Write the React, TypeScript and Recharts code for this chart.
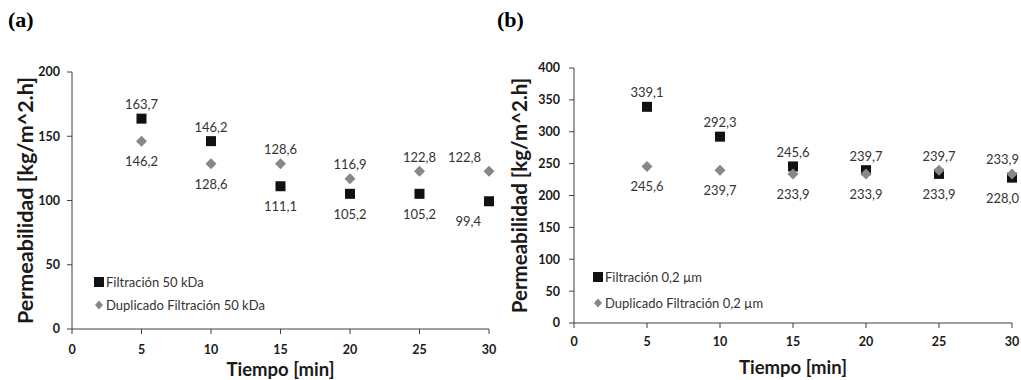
import React from "react"
import {
  ScatterChart,
  Scatter,
  XAxis,
  YAxis,
  LabelList,
  Legend,
} from "recharts"

const TIEMPO = [5, 10, 15, 20, 25, 30]

// panel (a) - 50 kDa
const FILTRACION_50 = [163.7, 146.2, 111.1, 105.2, 105.2, 99.4]
const DUPLICADO_50 = [146.2, 128.6, 128.6, 116.9, 122.8, 122.8]

// panel (b) - 0,2 µm
const FILTRACION_02 = [339.1, 292.3, 245.6, 239.7, 233.9, 228.0]
const DUPLICADO_02 = [245.6, 239.7, 233.9, 233.9, 239.7, 233.9]

const X_TICKS = [0, 5, 10, 15, 20, 25, 30]
const Y_TICKS_A = [0, 50, 100, 150, 200]
const Y_TICKS_B = [0, 50, 100, 150, 200, 250, 300, 350, 400]

const FONT = "Lato, 'Open Sans', sans-serif"
const BLACK = "#111111"
const GRAY = "#878787"
const AXIS = "#404040"

const toRows = (ys: number[]) => TIEMPO.map((x, i) => ({ x, y: ys[i] }))

const fmt = (v: number) => v.toFixed(1).replace(".", ",")

const SquareShape = (props: any) => {
  const { cx, cy } = props
  return <rect x={cx - 5} y={cy - 5} width={10} height={10} fill={BLACK} />
}

const DiamondShape = (props: any) => {
  const { cx, cy } = props
  const r = 5.5
  return (
    <path
      d={`M${cx},${cy - r}L${cx + r},${cy}L${cx},${cy + r}L${cx - r},${cy}Z`}
      fill={GRAY}
    />
  )
}

// higher series gets its label above the marker, the lower one below
const makeLabel =
  (own: number[], other: number[], maxRight: number) => (props: any) => {
    const vb = props.viewBox ?? props
    const cx = vb.x + vb.width / 2
    const cy = vb.y + vb.height / 2
    const i = props.index
    const above = own[i] >= other[i]
    const y = above ? cy - 14.5 : cy + 20
    const half = 16
    const clamp = cx + half > maxRight
    return (
      <text
        x={clamp ? maxRight : cx}
        y={y}
        textAnchor={clamp ? "end" : "middle"}
        dominantBaseline="central"
        fontFamily={FONT}
        fontSize={13}
        fill="#333333"
      >
        {fmt(Number(props.value))}
      </text>
    )
  }

const yTitle = (x: number, size: number) => (props: any) => {
  const vb = props.viewBox
  const cy = vb.y + vb.height / 2
  return (
    <text
      x={x}
      y={cy}
      transform={`rotate(-90 ${x} ${cy})`}
      textAnchor="middle"
      dominantBaseline="central"
      fontFamily={FONT}
      fontWeight="bold"
      fontSize={size}
      fill="#1a1a1a"
    >
      Permeabilidad [kg/m^2.h]
    </text>
  )
}

const legendContent = (rowHeight: number) => (props: any) => {
  const items = [...(props.payload ?? [])].sort((a: any, b: any) =>
    a.type === "square" ? -1 : b.type === "square" ? 1 : 0
  )
  return (
    <div style={{ fontFamily: FONT, fontSize: 13, color: "#333333" }}>
      {items.map((it: any) => (
        <div
          key={it.value}
          style={{ display: "flex", alignItems: "center", height: rowHeight }}
        >
          <svg width={13} height={12} style={{ display: "block" }}>
            {it.type === "square" ? (
              <rect x={1} y={1} width={10} height={10} fill={BLACK} />
            ) : (
              <path d="M6,1.5L10,6L6,10.5L2,6Z" fill={GRAY} />
            )}
          </svg>
          <span style={{ whiteSpace: "nowrap" }}>{it.value}</span>
        </div>
      ))}
    </div>
  )
}

interface PanelProps {
  width: number
  top: number
  right: number
  yMax: number
  yTicks: number[]
  yAxisWidth: number
  yTickMargin: number
  xAxisHeight: number
  xTickMargin: number
  xTitleSize: number
  xTitleOffset: number
  yTitleX: number
  yTitleSize: number
  filt: number[]
  dup: number[]
  filtName: string
  dupName: string
  labelMaxRight: number
  legendLeft: number
  legendTop: number
  legendRow: number
}

function Panel(p: PanelProps) {
  const tickStyle = {
    fontFamily: FONT,
    fontSize: 12.5,
    fontWeight: "bold" as const,
    fill: "#1a1a1a",
  }
  return (
    <ScatterChart
      width={p.width}
      height={380}
      margin={{ top: p.top, right: p.right, bottom: 0, left: 0 }}
    >
      <XAxis
        type="number"
        dataKey="x"
        domain={[0, 30]}
        ticks={X_TICKS}
        interval={0}
        height={p.xAxisHeight}
        tickSize={5}
        tickMargin={p.xTickMargin}
        axisLine={{ stroke: AXIS }}
        tickLine={{ stroke: AXIS }}
        tick={tickStyle}
        label={{
          value: "Tiempo [min]",
          position: "insideBottom",
          offset: p.xTitleOffset,
          fontFamily: FONT,
          fontSize: p.xTitleSize,
          fontWeight: "bold",
          fill: "#1a1a1a",
        }}
      />
      <YAxis
        type="number"
        dataKey="y"
        domain={[0, p.yMax]}
        ticks={p.yTicks}
        interval={0}
        width={p.yAxisWidth}
        tickSize={5}
        tickMargin={p.yTickMargin}
        axisLine={{ stroke: AXIS }}
        tickLine={{ stroke: AXIS }}
        tick={tickStyle}
        label={{ content: yTitle(p.yTitleX, p.yTitleSize) }}
      />
      <Legend
        layout="vertical"
        align="center"
        verticalAlign="middle"
        content={legendContent(p.legendRow)}
        wrapperStyle={{ left: p.legendLeft, top: p.legendTop, width: "auto", height: "auto" }}
      />
      <Scatter
        name={p.filtName}
        data={toRows(p.filt)}
        legendType="square"
        shape={SquareShape}
        isAnimationActive={false}
      >
        <LabelList dataKey="y" content={makeLabel(p.filt, p.dup, p.labelMaxRight)} />
      </Scatter>
      <Scatter
        name={p.dupName}
        data={toRows(p.dup)}
        legendType="diamond"
        shape={DiamondShape}
        isAnimationActive={false}
      >
        <LabelList dataKey="y" content={makeLabel(p.dup, p.filt, p.labelMaxRight)} />
      </Scatter>
    </ScatterChart>
  )
}

const panelTag: React.CSSProperties = {
  position: "absolute",
  top: 8,
  fontFamily: "'Liberation Serif', 'Times New Roman', serif",
  fontWeight: "bold",
  fontSize: 22,
  lineHeight: "24px",
  color: "#000000",
}

export default function App() {
  return (
    <div
      style={{
        position: "absolute",
        left: 0,
        top: 0,
        width: 1021,
        height: 380,
        background: "#ffffff",
        overflow: "hidden",
      }}
    >
      <div style={{ position: "absolute", left: 0, top: 0 }}>
        <Panel
          width={500}
          top={72}
          right={11}
          yMax={200}
          yTicks={Y_TICKS_A}
          yAxisWidth={72}
          yTickMargin={7}
          xAxisHeight={51}
          xTickMargin={11}
          xTitleSize={18.5}
          xTitleOffset={4}
          yTitleX={25}
          yTitleSize={21.5}
          filt={FILTRACION_50}
          dup={DUPLICADO_50}
          filtName="Filtración 50 kDa"
          dupName="Duplicado Filtración 50 kDa"
          labelMaxRight={481}
          legendLeft={93}
          legendTop={270}
          legendRow={23.5}
        />
      </div>
      <div style={{ position: "absolute", left: 500, top: 0 }}>
        <Panel
          width={521}
          top={68}
          right={9}
          yMax={400}
          yTicks={Y_TICKS_B}
          yAxisWidth={74}
          yTickMargin={9}
          xAxisHeight={57}
          xTickMargin={9}
          xTitleSize={18.5}
          xTitleOffset={6}
          yTitleX={19}
          yTitleSize={20.5}
          filt={FILTRACION_02}
          dup={DUPLICADO_02}
          filtName="Filtración 0,2 µm"
          dupName="Duplicado Filtración 0,2 µm"
          labelMaxRight={519}
          legendLeft={92}
          legendTop={264}
          legendRow={26}
        />
      </div>
      <div style={{ ...panelTag, left: 8 }}>(a)</div>
      <div style={{ ...panelTag, left: 497 }}>(b)</div>
    </div>
  )
}
